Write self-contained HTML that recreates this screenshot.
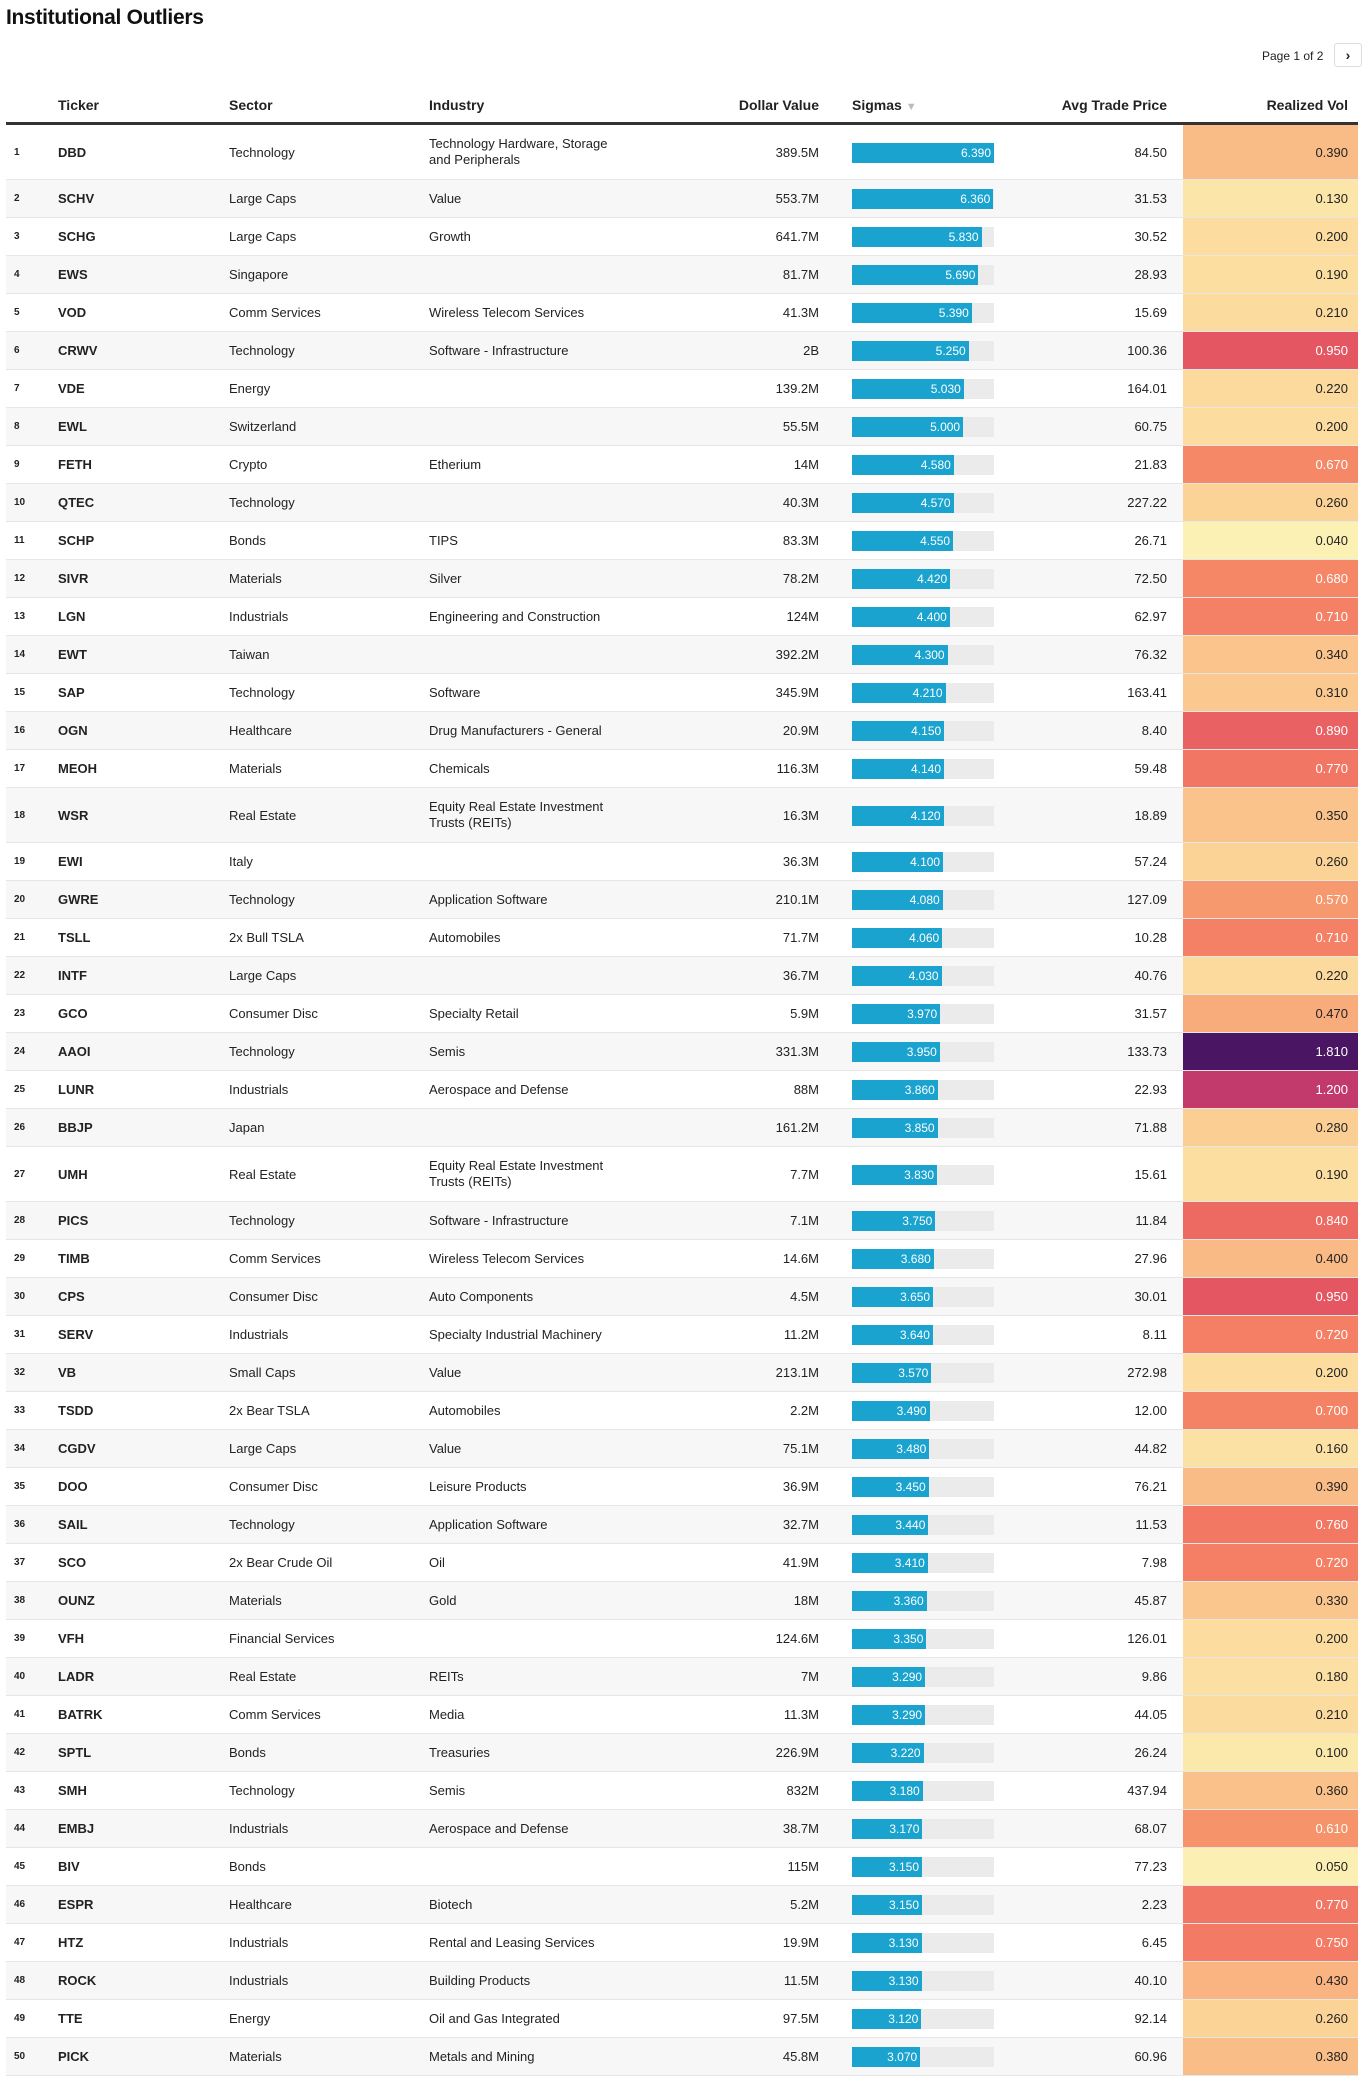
<!DOCTYPE html>
<html><head><meta charset="utf-8"><style>
body{margin:0;width:1364px;height:2079px;background:#fff;font-family:"Liberation Sans",sans-serif;color:#222;position:relative;overflow:hidden}
.abs{position:absolute}
.title{left:6px;top:6px;font-size:21px;font-weight:bold;color:#111;letter-spacing:-0.3px}
.pager{left:1262px;top:49px;font-size:12px;color:#222}
.btn{left:1334px;top:43px;width:28px;height:24px;border:1px solid #ddd;border-radius:3px;box-sizing:border-box;font-size:14px;text-align:center;line-height:22px;font-weight:bold}
.hd{top:97px;font-size:14px;font-weight:bold;color:#222}
.hline{left:6px;top:122px;width:1352px;height:3px;background:#333}
.row{position:absolute;left:6px;width:1352px;border-bottom:1px solid #e6e6e6;box-sizing:border-box}
.c{position:absolute;top:0;height:100%;display:flex;align-items:center;font-size:13px}
.rk{left:8px;font-size:10px;font-weight:bold}
.tk{left:52px;font-weight:bold}
.r{justify-content:flex-end}
.track{position:absolute;height:20px;background:#ebebeb}
.bar{position:absolute;left:0;top:0;height:20px;background:#1aa3cf;color:#fff;font-size:12px;text-align:right;line-height:20px;box-sizing:border-box;padding-right:3px}
</style></head><body>
<div class="abs title">Institutional Outliers</div>
<div class="abs pager">Page 1 of 2</div>
<div class="abs btn">›</div>
<div class="abs hd" style="left:58px">Ticker</div>
<div class="abs hd" style="left:229px">Sector</div>
<div class="abs hd" style="left:429px">Industry</div>
<div class="abs hd" style="left:700px;width:119px;text-align:right">Dollar Value</div>
<div class="abs hd" style="left:852px">Sigmas <span style="color:#bbb;font-size:11px">▼</span></div>
<div class="abs hd" style="left:1000px;width:167px;text-align:right">Avg Trade Price</div>
<div class="abs hd" style="left:1200px;width:148px;text-align:right">Realized Vol</div>
<div class="abs hline"></div>
<div id="tbl"></div>
<script>
const tickers=["DBD","SCHV","SCHG","EWS","VOD","CRWV","VDE","EWL","FETH","QTEC","SCHP","SIVR","LGN","EWT","SAP","OGN","MEOH","WSR","EWI","GWRE","TSLL","INTF","GCO","AAOI","LUNR","BBJP","UMH","PICS","TIMB","CPS","SERV","VB","TSDD","CGDV","DOO","SAIL","SCO","OUNZ","VFH","LADR","BATRK","SPTL","SMH","EMBJ","BIV","ESPR","HTZ","ROCK","TTE","PICK"];
const sectors=["Technology","Large Caps","Large Caps","Singapore","Comm Services","Technology","Energy","Switzerland","Crypto","Technology","Bonds","Materials","Industrials","Taiwan","Technology","Healthcare","Materials","Real Estate","Italy","Technology","2x Bull TSLA","Large Caps","Consumer Disc","Technology","Industrials","Japan","Real Estate","Technology","Comm Services","Consumer Disc","Industrials","Small Caps","2x Bear TSLA","Large Caps","Consumer Disc","Technology","2x Bear Crude Oil","Materials","Financial Services","Real Estate","Comm Services","Bonds","Technology","Industrials","Bonds","Healthcare","Industrials","Industrials","Energy","Materials"];
const industries=["Technology Hardware, Storage\nand Peripherals","Value","Growth","","Wireless Telecom Services","Software - Infrastructure","","","Etherium","","TIPS","Silver","Engineering and Construction","","Software","Drug Manufacturers - General","Chemicals","Equity Real Estate Investment\nTrusts (REITs)","","Application Software","Automobiles","","Specialty Retail","Semis","Aerospace and Defense","","Equity Real Estate Investment\nTrusts (REITs)","Software - Infrastructure","Wireless Telecom Services","Auto Components","Specialty Industrial Machinery","Value","Automobiles","Value","Leisure Products","Application Software","Oil","Gold","","REITs","Media","Treasuries","Semis","Aerospace and Defense","","Biotech","Rental and Leasing Services","Building Products","Oil and Gas Integrated","Metals and Mining"];
const dollarValues=["389.5M","553.7M","641.7M","81.7M","41.3M","2B","139.2M","55.5M","14M","40.3M","83.3M","78.2M","124M","392.2M","345.9M","20.9M","116.3M","16.3M","36.3M","210.1M","71.7M","36.7M","5.9M","331.3M","88M","161.2M","7.7M","7.1M","14.6M","4.5M","11.2M","213.1M","2.2M","75.1M","36.9M","32.7M","41.9M","18M","124.6M","7M","11.3M","226.9M","832M","38.7M","115M","5.2M","19.9M","11.5M","97.5M","45.8M"];
const sigmas=[6.39,6.36,5.83,5.69,5.39,5.25,5.03,5.0,4.58,4.57,4.55,4.42,4.4,4.3,4.21,4.15,4.14,4.12,4.1,4.08,4.06,4.03,3.97,3.95,3.86,3.85,3.83,3.75,3.68,3.65,3.64,3.57,3.49,3.48,3.45,3.44,3.41,3.36,3.35,3.29,3.29,3.22,3.18,3.17,3.15,3.15,3.13,3.13,3.12,3.07];
const prices=["84.50","31.53","30.52","28.93","15.69","100.36","164.01","60.75","21.83","227.22","26.71","72.50","62.97","76.32","163.41","8.40","59.48","18.89","57.24","127.09","10.28","40.76","31.57","133.73","22.93","71.88","15.61","11.84","27.96","30.01","8.11","272.98","12.00","44.82","76.21","11.53","7.98","45.87","126.01","9.86","44.05","26.24","437.94","68.07","77.23","2.23","6.45","40.10","0.26","60.96"];
prices[48]="92.14";
const vols=[0.39,0.13,0.2,0.19,0.21,0.95,0.22,0.2,0.67,0.26,0.04,0.68,0.71,0.34,0.31,0.89,0.77,0.35,0.26,0.57,0.71,0.22,0.47,1.81,1.2,0.28,0.19,0.84,0.4,0.95,0.72,0.2,0.7,0.16,0.39,0.76,0.72,0.33,0.2,0.18,0.21,0.1,0.36,0.61,0.05,0.77,0.75,0.43,0.26,0.38];

const stops=[[0,[252,246,186]],[0.13,[251,229,168]],[0.22,[252,218,157]],[0.3,[251,203,145]],[0.4,[249,186,133]],[0.5,[248,165,118]],[0.65,[246,140,103]],[0.77,[242,118,100]],[0.95,[228,86,97]],[1.2,[193,58,107]],[1.81,[74,21,99]]];
function volColor(v){
  for(let i=1;i<stops.length;i++){
    if(v<=stops[i][0]){const a=stops[i-1],b=stops[i];const t=(v-a[0])/(b[0]-a[0]);
      return 'rgb('+a[1].map((c,k)=>Math.round(c+(b[1][k]-c)*t)).join(',')+')';}
  }
  return 'rgb(74,21,99)';
}
const sMax=Math.max(...sigmas);
const trackW=142;
function xScale(v){return v/sMax*trackW;}
const tbl=document.getElementById('tbl');
let y=125;
for(let i=0;i<tickers.length;i++){
  const tall=industries[i].indexOf('\n')>=0;
  const h=tall?55:38;
  const row=document.createElement('div');
  
  
  row.className='row';
  row.style.top=y+'px';row.style.height=h+'px';
  row.style.background=(i%2===1)?'#f7f7f7':'#fff';
  const dark=vols[i]>=0.5;
  row.innerHTML=
   '<div class="c rk">'+(i+1)+'</div>'+
   '<div class="c tk">'+tickers[i]+'</div>'+
   '<div class="c" style="left:223px">'+sectors[i]+'</div>'+
   '<div class="c" style="left:423px;white-space:pre-line;line-height:16px">'+industries[i]+'</div>'+
   '<div class="c r" style="left:700px;width:113px">'+dollarValues[i]+'</div>'+
   '<div class="track" style="left:846px;top:'+((h-20)/2)+'px;width:'+trackW+'px"><div class="bar" style="width:'+xScale(sigmas[i]).toFixed(1)+'px">'+sigmas[i].toFixed(3)+'</div></div>'+
   '<div class="c r" style="left:1000px;width:161px">'+prices[i]+'</div>'+
   '<div class="c r" style="left:1177px;width:175px;padding-right:10px;box-sizing:border-box;background:'+volColor(vols[i])+';color:'+(dark?'#fff':'#222')+'">'+vols[i].toFixed(3)+'</div>';
  tbl.appendChild(row);
  y+=h;
}
</script>
</body></html>
